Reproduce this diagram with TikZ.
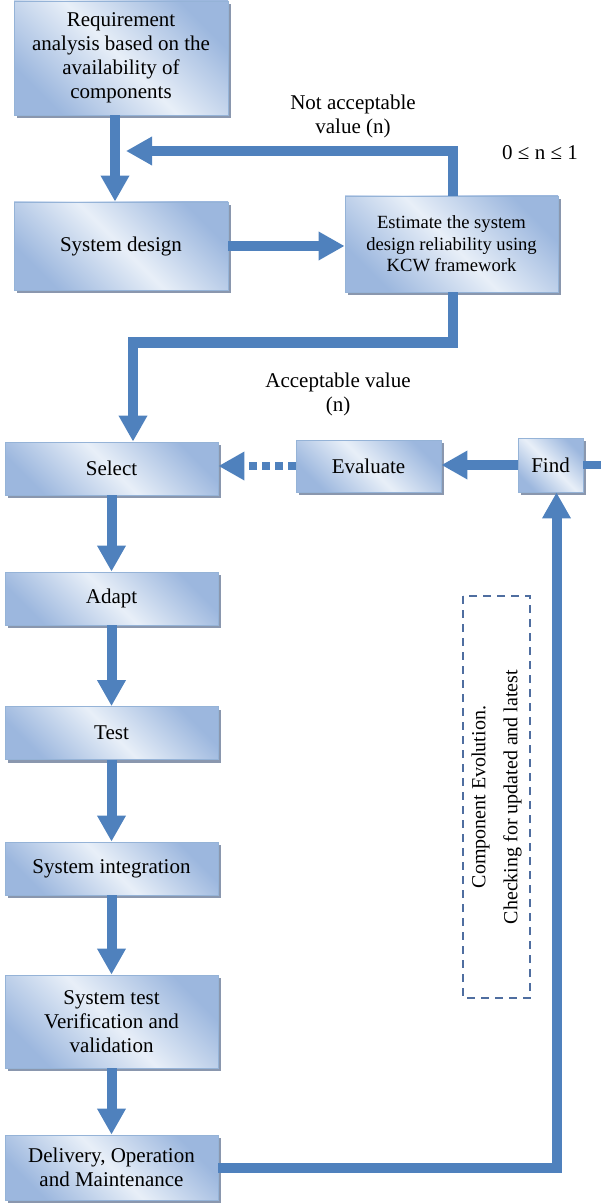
\documentclass[tikz,border=0pt]{standalone}
\usepackage{fontspec}
\setmainfont{Liberation Serif}
\usetikzlibrary{arrows.meta,shadows}
\definecolor{flow}{RGB}{79,129,189}
\definecolor{boxdark}{RGB}{156,183,222}
\definecolor{boxlight}{RGB}{232,239,248}
\definecolor{boxline}{RGB}{149,179,215}
\definecolor{shadowc}{RGB}{125,140,165}
\definecolor{dashc}{RGB}{79,110,160}
\begin{document}
\begin{tikzpicture}[x=0.5pt,y=-0.5pt,
  blk/.style={draw=boxline, line width=0.4pt, top color=boxdark, bottom color=boxdark,
    middle color=boxlight, shading angle=-45,
    drop shadow={shadow xshift=1.5pt, shadow yshift=-1.5pt, fill=shadowc, opacity=0.9},
    align=center, inner sep=2pt, minimum width=106.5pt, font=\fontsize{10.5}{12}\selectfont},
  arr/.style={draw=flow, line width=5pt, -{Triangle[width=13.5pt,length=13pt]}},
  lbl/.style={align=center, font=\fontsize{10.5}{12}\selectfont}]
  \useasboundingbox (0,0) rectangle (601,1203);
  \node[blk, minimum width=107pt, minimum height=57pt] (req) at (121,58)
    {Requirement\\ analysis based on the\\ availability of\\ components};
  \node[blk, minimum width=107pt, minimum height=44pt] (sysd) at (121,246) {System design};
  \node[blk, minimum height=48pt, font=\fontsize{9.3}{10.8}\selectfont] (est) at (451.5,244)
    {Estimate the system\\ design reliability using\\ KCW framework};
  \node[blk, minimum height=26.5pt] (sel) at (111.5,468.5) {Select};
  \node[blk, minimum width=72.5pt, minimum height=26pt] (eval) at (368.5,466) {Evaluate};
  \node[blk, minimum width=32.5pt, minimum height=27pt] (find) at (550.5,465) {Find};
  \node[blk, minimum height=26.5pt] (adapt) at (111.5,598.5) {Adapt};
  \node[blk, minimum height=26.5pt] (test) at (111.5,733) {Test};
  \node[blk, minimum height=26.5pt] (sint) at (111.5,868.5) {System integration};
  \node[blk, minimum height=46.5pt] (stest) at (111.5,1021.5)
    {System test\\ Verification and\\ validation};
  \node[blk, minimum height=32.5pt] (deliv) at (111.5,1167.5)
    {Delivery, Operation\\ and Maintenance};
  % labels
  \node[lbl] (notacc) at (353,116) {Not acceptable\\ value (n)};
  \node[lbl] (range) at (540,153) {0 ≤ n ≤ 1};
  \node[lbl] (accept) at (338,394) {Acceptable value\\ (n)};
  \node[draw=dashc, line width=0.6pt, dash pattern=on 4pt off 3pt, rotate=90,
    minimum width=201pt, minimum height=33.5pt, align=center,
    font=\fontsize{10}{16}\selectfont] (evol) at (496.5,797)
    {Component Evolution.\\ Checking for updated and latest};
  \coordinate (back) at (126,151);
  \coordinate (down) at (133,342.5);
  \coordinate (edge) at (601,462);
  % connectors
  \draw[arr] ([xshift=-3pt]req.south) -- ([xshift=-3pt]sysd.north);
  \draw[arr] ([xshift=0.5pt]est.north) |- (back);
  \draw[arr] (sysd.east) -- (sysd.east -| est.west);
  \draw[arr] ([xshift=0.75pt]est.south) |- (down) -- (down |- sel.north);
  \draw[arr] (sel) -- (adapt);
  \draw[arr] (adapt) -- (test);
  \draw[arr] (test) -- (sint);
  \draw[arr] (sint) -- (stest);
  \draw[arr] (stest) -- (deliv);
  \draw[arr, line width=4pt, dash pattern=on 4pt off 2.5pt] (eval.west) -- (eval.west -| sel.east);
  \draw[arr] (find.west) -- (find.west -| eval.east);
  \draw[draw=flow, line width=4pt] (find.east) -- (find.east -| edge);
  \draw[arr] (deliv.east) -| ([xshift=3pt]find.south);
\end{tikzpicture}
\end{document}
